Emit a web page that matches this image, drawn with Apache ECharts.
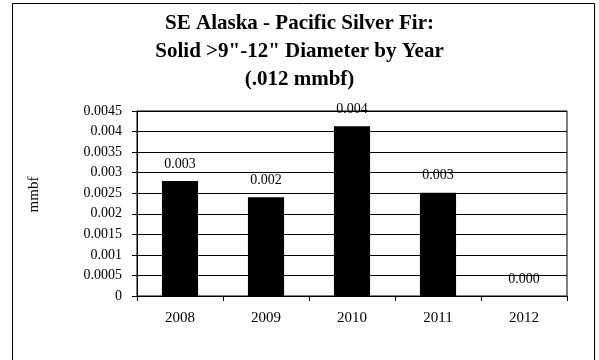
<!DOCTYPE html>
<html><head><meta charset="utf-8">
<script src="https://cdn.jsdelivr.net/npm/echarts@6/dist/echarts.min.js"></script>
<style>html,body{margin:0;padding:0;background:#fff}#c{width:599px;height:360px}</style>
</head><body><div id="c"></div>
<script>
const categories = ['2008', '2009', '2010', '2011', '2012'];
const values = [0.0028, 0.0024, 0.00413, 0.00251, 0.0];
const yTicks = [0, 0.0005, 0.001, 0.0015, 0.002, 0.0025, 0.003, 0.0035, 0.004, 0.0045];
const titleLines = ['SE Alaska - Pacific Silver Fir:', 'Solid >9"-12" Diameter by Year', '(.012 mmbf)'];
const yName = 'mmbf';

const font = '"Liberation Serif", "Times New Roman", serif';
const chart = echarts.init(document.getElementById('c'), null, {renderer: 'canvas'});
chart.setOption({
  animation: false,
  backgroundColor: '#fff',
  title: {
    text: titleLines.join('\n'), left: 'center', top: 5,
    textStyle: {fontFamily: font, fontSize: 21, fontWeight: 'bold', color: '#000', lineHeight: 28}
  },
  graphic: [{
    type: 'rect', shape: {x: 12.5, y: 3.5, width: 582, height: 360}, silent: true,
    style: {fill: null, stroke: '#000', lineWidth: 1}
  }],
  grid: {left: 137, right: 32, top: 111, bottom: 64, show: true, borderColor: '#000', borderWidth: 1, backgroundColor: 'transparent'},
  xAxis: {
    type: 'category', data: categories,
    axisLine: {show: true, lineStyle: {color: '#000', width: 1}},
    axisTick: {show: true, inside: false, length: 5, alignWithLabel: false, lineStyle: {color: '#000'}},
    axisLabel: {fontFamily: font, fontSize: 15, color: '#000', margin: 15},
    splitLine: {show: false}
  },
  yAxis: {
    type: 'value', min: 0, max: yTicks[yTicks.length - 1], interval: 0.0005,
    name: yName, nameLocation: 'middle', nameGap: 95, nameRotate: 90,
    nameTextStyle: {fontFamily: font, fontSize: 15, color: '#000', padding: [0, 0, 0, 18]},
    axisLine: {show: true, lineStyle: {color: '#000', width: 1}},
    axisTick: {show: true, inside: false, length: 5, lineStyle: {color: '#000'}},
    axisLabel: {fontFamily: font, fontSize: 14, color: '#000', margin: 15,
      formatter: v => { const t = yTicks.find(x => Math.abs(x - v) < 1e-9); return t === undefined ? '' : String(+t.toFixed(4)); }},
    splitLine: {show: true, lineStyle: {color: '#000', width: 1}}
  },
  series: [{
    type: 'bar', data: values, barWidth: '42%',
    itemStyle: {color: '#000'},
    label: {show: true, position: 'top', distance: 10, fontFamily: font, fontSize: 14, color: '#000',
      formatter: p => p.value.toFixed(3)}
  }]
});
</script></body></html>
